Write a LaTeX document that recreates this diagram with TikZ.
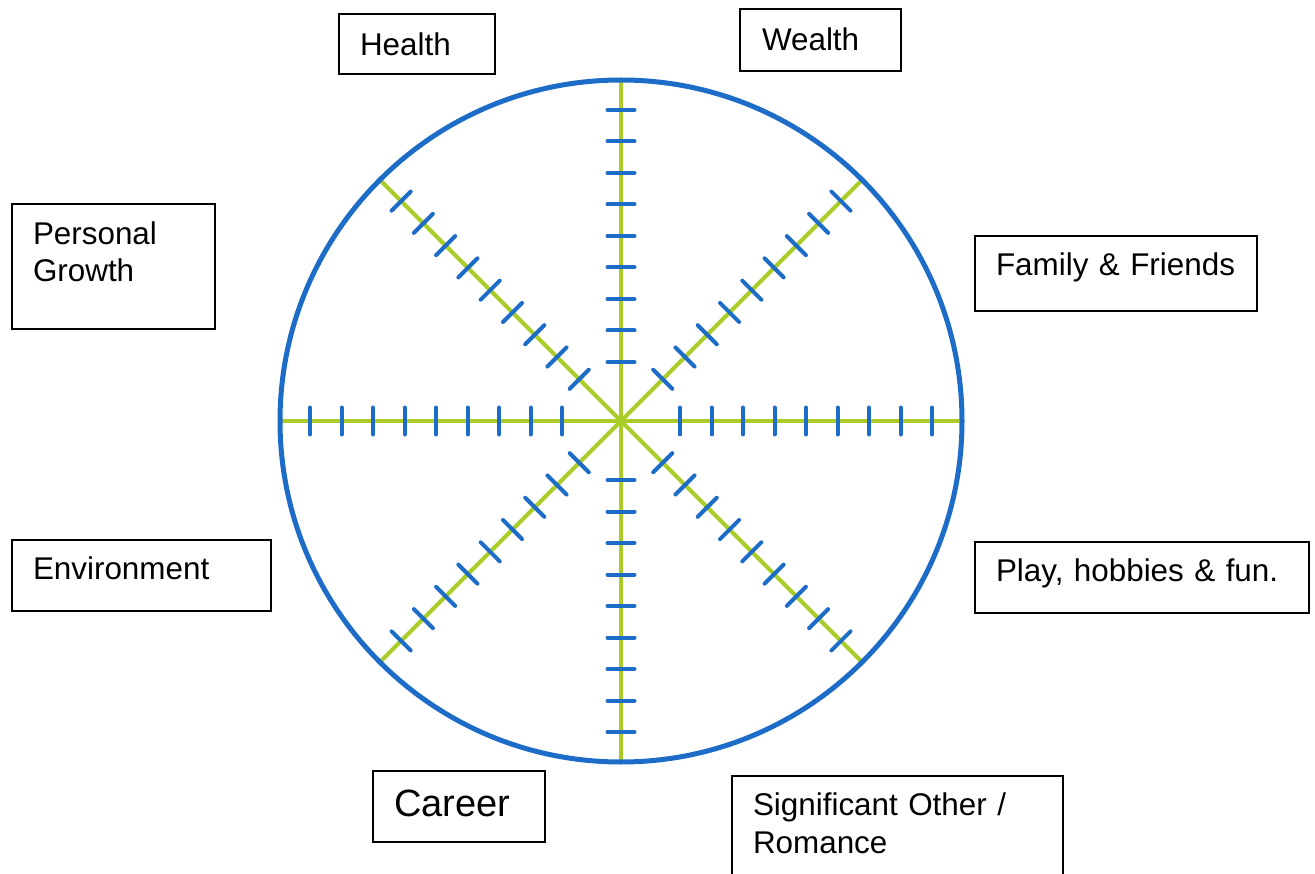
\documentclass[tikz,border=0pt]{standalone}
\usepackage{fontspec}
\setmainfont{Liberation Sans}
\definecolor{rimblue}{RGB}{28,108,200}
\definecolor{spokegreen}{RGB}{170,204,38}
\tikzset{
  area/.style = {draw, line width = 2pt, anchor = north west, align = left,
                 inner sep = 0pt, inner xsep = 21pt,
                 font = \fontsize{31.4}{37}\selectfont},
  spoke/.style = {draw = spokegreen, line width = 4pt},
  tick/.style = {draw = rimblue, line width = 4pt, line cap = round},
  rim/.style = {draw = rimblue, line width = 5pt}
}
\begin{document}
\begin{tikzpicture}[x = 1pt, y = -1pt]
\useasboundingbox (0,0) rectangle (1315,874);
\pgfmathsetmacro\radius{341};
\coordinate (hub) at (621,421);
% spokes with their scale marks
\foreach \a in {0,45,...,315} {
  \draw [spoke] (hub) -- ++(\a:\radius);
  \foreach \k [evaluate = \k as \d using 59+31.5*\k] in {0,...,8}
    \draw [tick] ([shift = {(\a:\d)}]hub) ++(\a+90:13.5) -- ++(\a-90:27);
}
\draw [rim] (hub) circle [radius = \radius];
% life areas
\node [area, text width = 114pt, text height = 42pt, text depth = 18pt] (health) at (338,13) {Health};
\node [area, text width = 117pt, inner xsep = 22pt, text height = 42pt, text depth = 20pt] (wealth) at (739,8) {Wealth};
\node [area, text width = 161pt, text height = 41pt, text depth = 84pt] (growth) at (11,203) {Personal\\Growth};
\node [area, text width = 240pt, text height = 40pt, text depth = 35pt] (family) at (974,235) {Family \& Friends};
\node [area, text width = 217pt, text height = 39pt, text depth = 32pt] (environment) at (11,539) {Environment};
\node [area, text width = 292pt, text height = 39pt, text depth = 32pt] (play) at (974,541) {Play, hobbies \& fun.};
\node [area, text width = 130pt, text height = 45pt, text depth = 26pt, font = \fontsize{38}{44}\selectfont] (career) at (372,770) {Career};
\node [area, text width = 289pt, text height = 39pt, text depth = 76pt, font = \fontsize{31.4}{38}\selectfont] (romance) at (731,775) {Significant Other /\\Romance};
\end{tikzpicture}
\end{document}
